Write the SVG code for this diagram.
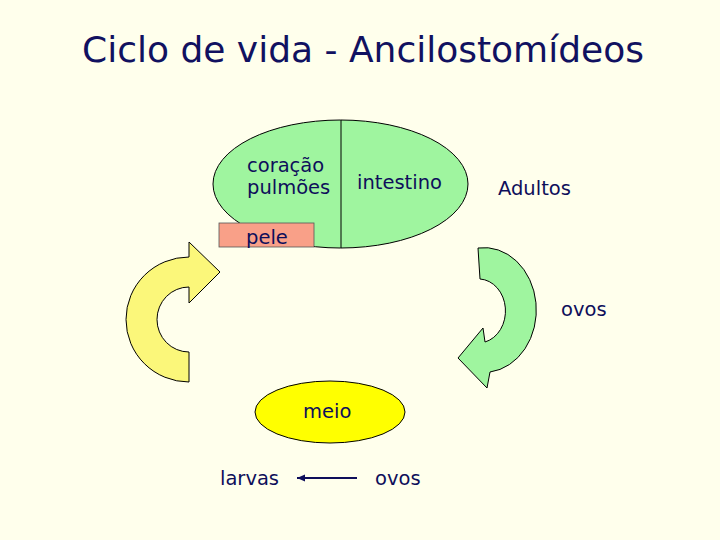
<svg xmlns="http://www.w3.org/2000/svg" width="720" height="540" viewBox="0 0 720 540">
<style>
text{font-family:"DejaVu Sans","Liberation Sans",sans-serif;fill:#0e0e5a;font-size:19.5px}
.title{font-size:36px;fill:#111160}
.shape{stroke:#000;stroke-width:1}
</style>
<defs>
<marker id="ah" markerWidth="9" markerHeight="8" refX="8" refY="4" orient="auto" markerUnits="userSpaceOnUse">
<path d="M0,0.5 L8,4 L0,7.5 Z" fill="#0e0e5a"/>
</marker>
</defs>
<rect width="720" height="540" fill="#ffffec"/>
<text class="title" x="82" y="62">Ciclo de vida - Ancilostomídeos</text>
<g id="hospedeiro">
<ellipse class="shape" cx="340.5" cy="184" rx="127.5" ry="64" fill="#9ff59f"/>
<line class="shape" x1="341" y1="120" x2="341" y2="248"/>
<text x="247" y="172">coração</text>
<text x="247" y="194">pulmões</text>
<text x="357" y="189">intestino</text>
</g>
<g id="pele">
<rect x="219" y="223" width="95" height="24" fill="#f9a088" stroke="#555" stroke-width="0.8"/>
<text x="246" y="244">pele</text>
</g>
<g id="adultos"><text x="498" y="195">Adultos</text></g>
<g id="ovos-label"><text x="561" y="316">ovos</text></g>
<g id="meio">
<ellipse class="shape" cx="330" cy="412" rx="75" ry="31" fill="#ffff00"/>
<text x="303" y="418">meio</text>
</g>
<g id="larvas"><text x="220" y="485">larvas</text></g>
<g id="ovos"><text x="375" y="485">ovos</text></g>
<g id="connectors">
<path class="shape" d="M189,382 A63,62.5 0 0 1 189,257 L189,242 L220,272 L189,303 L189,287 A32,32.5 0 0 0 189,352 Z" fill="#fbf77a"/>
<path class="shape" d="M478,248 A52,62 0 0 1 490,372 L487,388 L458,358 L483,328 L485,342 A27,32 0 0 0 480,279 Z" fill="#9ff59f"/>
<line x1="357" y1="478" x2="297" y2="478" stroke="#0e0e5a" stroke-width="2" marker-end="url(#ah)"/>
</g>
</svg>
